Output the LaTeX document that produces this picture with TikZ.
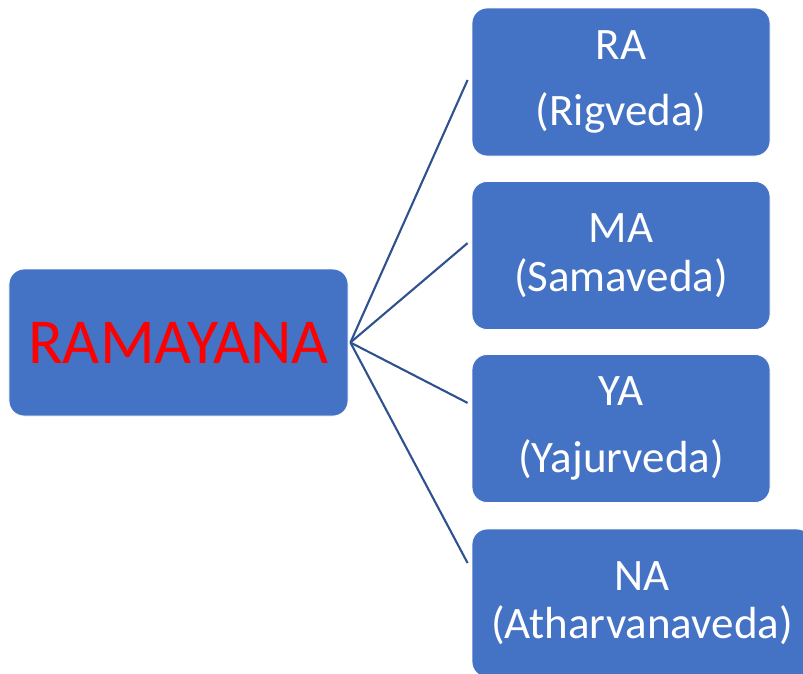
\documentclass[tikz,border=0pt]{standalone}
\usepackage{fontspec}
\setmainfont{Carlito}
\definecolor{boxblue}{HTML}{4472C4}
\definecolor{lineblue}{HTML}{2F528F}

\begin{document}
\begin{tikzpicture}[
  vedabox/.style={rectangle, rounded corners=0.375cm, fill=boxblue, draw=white,
    line width=0.6pt, inner sep=0pt, align=center, text=white,
    font=\fontsize{32}{34.5}\selectfont},
  branch/.style={draw=lineblue, line width=1.5pt}
]

%picture size
\useasboundingbox (0,0) rectangle (20.075,-16.825) ;
\clip (0,0) rectangle (20.075,-16.825) ;

%root
\node [vedabox, minimum width=8.475cm, minimum height=3.675cm, text=red,
  font=\fontsize{45.5}{50}\selectfont] (ramayana) at (4.4625,-8.5625) {RAMAYANA} ;

%vedas
\node [vedabox, minimum width=7.45cm, minimum height=3.7cm] (ra) at (15.525,-2.05)
  {RA\\[13pt](Rigveda)} ;
\node [vedabox, minimum width=7.45cm, minimum height=3.7cm] (ma) at (15.525,-6.3875)
  {MA\\(Samaveda)} ;
\node [vedabox, minimum width=7.45cm, minimum height=3.7cm] (ya) at (15.525,-10.7125)
  {YA\\[13pt](Yajurveda)} ;
\node [vedabox, minimum width=8.5cm, minimum height=3.7cm] (na) at (16.05,-15.075)
  {NA\\(Atharvanaveda)} ;

%branches
\draw [branch] ([xshift=.05cm]ramayana.east) -- ([xshift=-.1cm,yshift=.05cm]ra.west) ;
\draw [branch] ([xshift=.05cm]ramayana.east) -- ([xshift=-.1cm,yshift=.31cm]ma.west) ;
\draw [branch] ([xshift=.05cm]ramayana.east) -- ([xshift=-.1cm,yshift=.64cm]ya.west) ;
\draw [branch] ([xshift=.05cm]ramayana.east) -- ([xshift=-.1cm,yshift=1cm]na.west) ;

\end{tikzpicture}
\end{document}
